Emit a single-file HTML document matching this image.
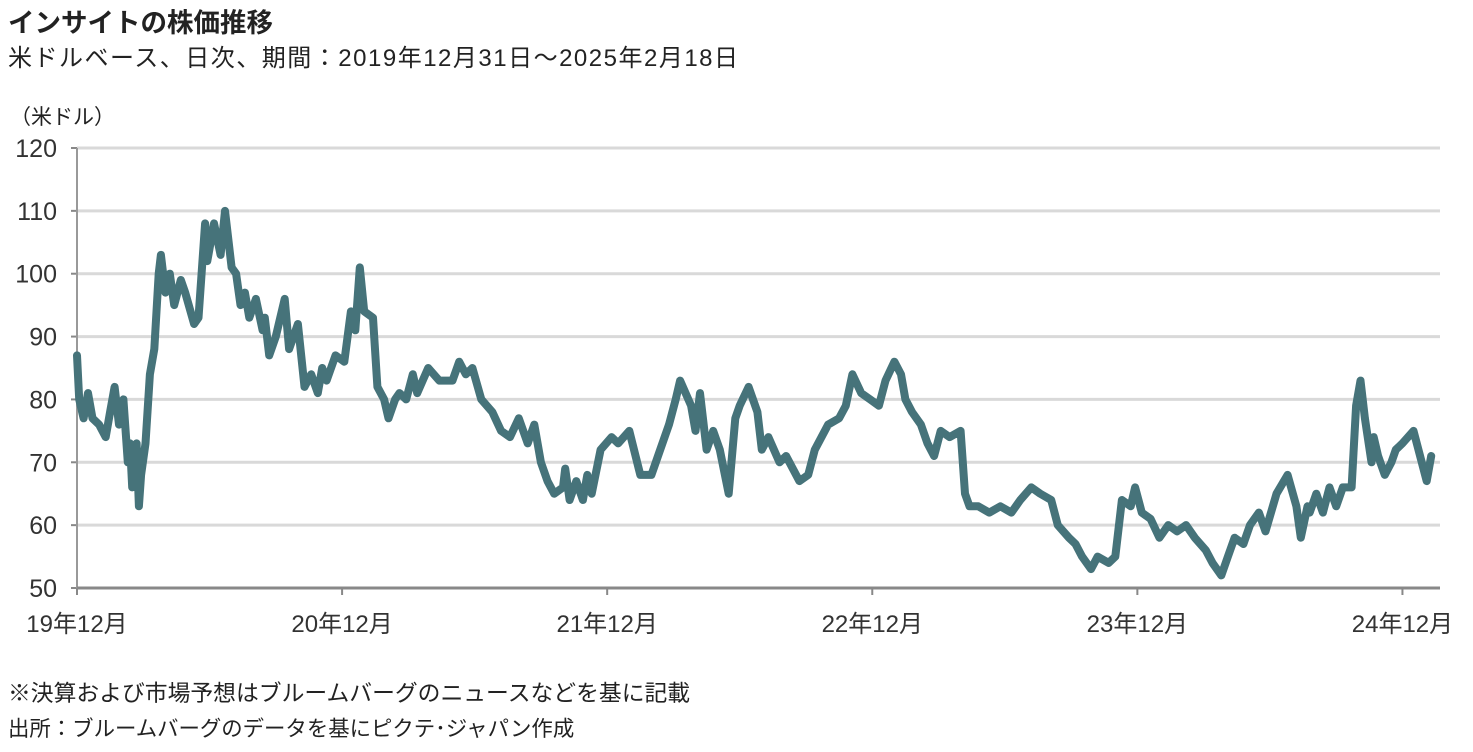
<!DOCTYPE html>
<html><head><meta charset="utf-8"><style>
body{margin:0;width:1473px;height:752px;background:#fff;overflow:hidden;font-family:"Liberation Sans","Noto Sans CJK JP",sans-serif;color:#222}
.t{position:absolute;white-space:nowrap}
</style></head><body>
<div class="t" style="left:8px;top:1px;font-size:26.5px;font-weight:bold">インサイトの株価推移</div>
<div class="t" style="left:8px;top:38px;font-size:24px;letter-spacing:1.5px">米ドルベース、日次、期間：2019年12月31日～2025年2月18日</div>
<div class="t" style="left:10px;top:101px;font-size:21px">（米ドル）</div>
<div class="t" style="left:8px;top:675px;font-size:22.8px">※決算および市場予想はブルームバーグのニュースなどを基に記載</div>
<div class="t" style="left:8px;top:712px;font-size:21.4px">出所：ブルームバーグのデータを基にピクテ･ジャパン作成</div>
<svg id="chart" width="1473" height="752" style="position:absolute;left:0;top:0"></svg>
<script>
const yTicks=[50,60,70,80,90,100,110,120];
const xTickMonths=[0,12,24,36,48,60];
const xTickLabels=["19年12月","20年12月","21年12月","22年12月","23年12月","24年12月"];
const months=[0,.1,.3,.5,.7,1.0,1.3,1.5,1.7,1.9,2.1,2.3,2.4,2.5,2.7,2.8,2.9,3.1,3.3,3.5,3.7,3.8,4.0,4.2,4.4,4.7,4.9,5.3,5.5,5.8,5.9,6.2,6.5,6.7,7.0,7.2,7.4,7.6,7.8,8.1,8.4,8.5,8.7,9.0,9.4,9.6,10.0,10.3,10.6,10.9,11.1,11.3,11.7,12.1,12.4,12.6,12.8,13.0,13.4,13.6,13.9,14.1,14.4,14.6,14.9,15.2,15.4,15.9,16.4,17.0,17.3,17.6,17.9,18.3,18.8,19.2,19.6,20.0,20.4,20.7,21.0,21.3,21.6,22.0,22.1,22.3,22.6,22.9,23.1,23.3,23.7,24.2,24.5,25.0,25.5,26.0,26.3,26.8,27.1,27.3,27.8,28.0,28.2,28.5,28.8,29.1,29.5,29.8,30.0,30.4,30.8,31.0,31.3,31.8,32.1,32.7,33.1,33.4,34.0,34.5,34.8,35.1,35.5,35.9,36.3,36.6,37.0,37.3,37.5,37.8,38.2,38.5,38.8,39.1,39.5,40.0,40.2,40.4,40.8,41.3,41.8,42.3,42.7,43.2,43.6,44.1,44.4,44.9,45.2,45.5,45.9,46.2,46.7,47.0,47.3,47.7,47.9,48.2,48.6,49.0,49.4,49.8,50.2,50.6,51.1,51.4,51.8,52.1,52.4,52.8,53.1,53.5,53.8,54.3,54.8,55.2,55.4,55.7,55.8,56.1,56.4,56.7,57.0,57.3,57.7,57.9,58.1,58.3,58.6,58.7,58.9,59.2,59.5,59.7,60.0,60.5,61.1,61.3,61.7];
const prices=[87,80,77,81,77,76,74,78,82,76,80,70,73,66,73,63,68,73,84,88,100,103,97,100,95,99,97,92,93,108,102,108,103,110,101,100,95,97,93,96,91,93,87,90,96,88,92,82,84,81,85,83,87,86,94,91,101,94,93,82,80,77,80,81,80,84,81,85,83,83,86,84,85,80,78,75,74,77,73,76,70,67,65,66,69,64,67,64,68,65,72,74,73,75,68,68,71,76,80,83,79,75,81,72,75,72,65,77,79,82,78,72,74,70,71,67,68,72,76,77,79,84,81,80,79,83,86,84,80,78,76,73,71,75,74,75,65,63,63,62,63,62,64,66,65,64,60,58,57,55,53,55,54,55,64,63,66,62,61,58,60,59,60,58,56,54,52,55,58,57,60,62,59,65,68,63,58,63,62,65,62,66,63,66,66,79,83,77,70,74,71,68,70,72,73,75,67,71];
const svg=document.getElementById('chart');
const NS='http://www.w3.org/2000/svg';
const L=77,R=1440,T=148,B=588;
const xS=m=>L+m*(R-L)/61.7;
const yS=v=>B-(v-50)*(B-T)/70;
function mk(tag,a){const e=document.createElementNS(NS,tag);for(const k in a)e.setAttribute(k,a[k]);svg.appendChild(e);return e;}
yTicks.forEach(v=>{
  if(v>50){const g=mk('line',{x1:L,x2:R,y1:yS(v),y2:yS(v),stroke:'#d9d9d9','stroke-width':3});
  
  }
  const tk=mk('line',{x1:L-6,x2:L,y1:yS(v),y2:yS(v),stroke:'#888','stroke-width':2});
  
  
  const t=mk('text',{x:57,y:yS(v)+9,'text-anchor':'end','font-size':25,fill:'#333','font-family':'Liberation Sans Narrow, Liberation Sans, sans-serif'});
  t.textContent=v;
  
  
});
const ya=mk('line',{x1:L,x2:L,y1:T,y2:B,stroke:'#999','stroke-width':2});


const xa=mk('line',{x1:L,x2:R,y1:B,y2:B,stroke:'#888','stroke-width':3});


xTickMonths.forEach((m,i)=>{
  const tk=mk('line',{x1:xS(m),x2:xS(m),y1:B,y2:B+7,stroke:'#888','stroke-width':2});
  
  
  const t=mk('text',{x:xS(m),y:632,'text-anchor':'middle','font-size':24,fill:'#333','font-family':'Liberation Sans, Noto Sans CJK JP, sans-serif'});
  t.textContent=xTickLabels[i];
  
  
});
const d=months.map((m,i)=>(i?'L':'M')+xS(m).toFixed(1)+' '+yS(prices[i]).toFixed(1)).join(' ');
const p=mk('path',{d:d,fill:'none',stroke:'#46737a','stroke-width':8,'stroke-linejoin':'round','stroke-linecap':'round'});


</script>
</body></html>
